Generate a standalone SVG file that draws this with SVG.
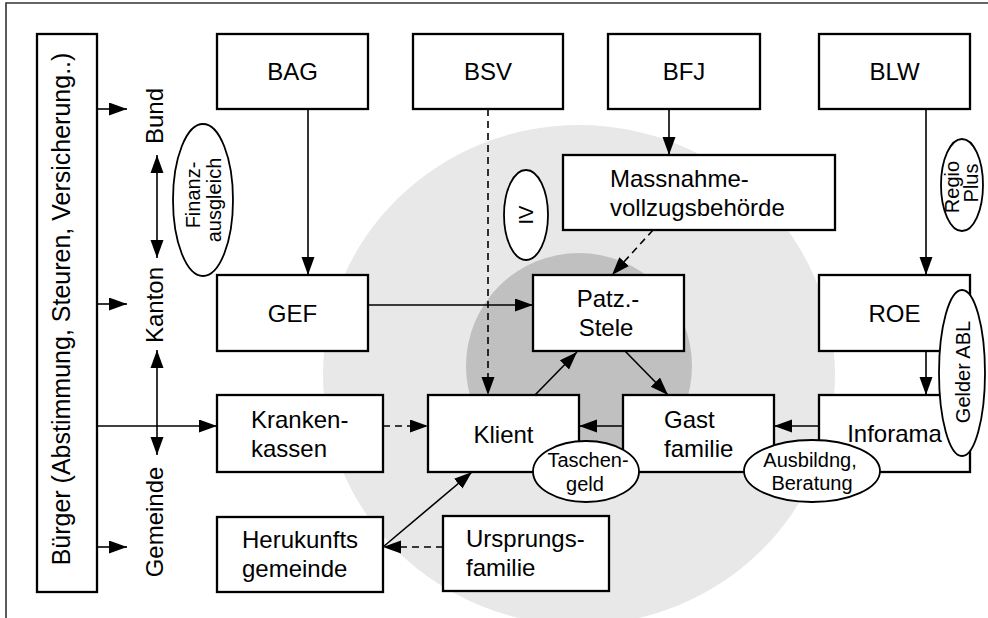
<svg xmlns="http://www.w3.org/2000/svg" width="988" height="618" viewBox="0 0 988 618">
<style>
text{font-family:"Liberation Sans",Arial,sans-serif;fill:#000}
.t{font-size:24px}
.s{font-size:20px}
.m{text-anchor:middle}
.box{fill:#fff;stroke:#000;stroke-width:2.3}
.ell{fill:#fff;stroke:#000;stroke-width:1.8}
.c{fill:none;stroke:#000;stroke-width:1.6}
.d{stroke-dasharray:7 5}
</style>
<defs>
<marker id="a" markerUnits="userSpaceOnUse" markerWidth="19" markerHeight="14" refX="18" refY="6.5" orient="auto">
<path d="M0,0 L18,6.5 L0,13 z" fill="#000"/>
</marker>
<marker id="as" markerUnits="userSpaceOnUse" markerWidth="19" markerHeight="14" refX="0" refY="6.5" orient="auto">
<path d="M18,0 L0,6.5 L18,13 z" fill="#000"/>
</marker>
</defs>
<rect width="988" height="618" fill="#fff"/>
<path d="M6,620 L6,3 L990,3" fill="none" stroke="#333" stroke-width="1.6"/>
<ellipse cx="579" cy="375" rx="256" ry="250" fill="#e8e8e8"/>
<circle cx="579" cy="366" r="113" fill="#c0c0c0"/>

<g id="connectors">
<line class="c" x1="97" y1="109" x2="127" y2="109" marker-end="url(#a)"/>
<line class="c" x1="97" y1="304" x2="127" y2="304" marker-end="url(#a)"/>
<line class="c" x1="97" y1="547" x2="127" y2="547" marker-end="url(#a)"/>
<line class="c" x1="97" y1="426" x2="217" y2="426" marker-end="url(#a)"/>
<line class="c" x1="157" y1="155" x2="157" y2="258" marker-start="url(#as)" marker-end="url(#a)"/>
<line class="c" x1="157" y1="350" x2="157" y2="455" marker-start="url(#as)" marker-end="url(#a)"/>
<line class="c" x1="308" y1="109" x2="308" y2="275" marker-end="url(#a)"/>
<line class="c d" x1="488" y1="109" x2="488" y2="395" marker-end="url(#a)"/>
<line class="c" x1="669" y1="109" x2="669" y2="155" marker-end="url(#a)"/>
<line class="c d" x1="653" y1="230" x2="612" y2="275" marker-end="url(#a)"/>
<line class="c" x1="926" y1="109" x2="926" y2="275" marker-end="url(#a)"/>
<line class="c" x1="926" y1="351" x2="926" y2="395" marker-end="url(#a)"/>
<line class="c" x1="368" y1="305" x2="533" y2="305" marker-end="url(#a)"/>
<line class="c" x1="535" y1="395" x2="577" y2="352" marker-end="url(#a)"/>
<line class="c" x1="625" y1="351" x2="668" y2="395" marker-end="url(#a)"/>
<line class="c" x1="623" y1="426" x2="579" y2="426" marker-end="url(#a)"/>
<line class="c" x1="819" y1="426" x2="774" y2="426" marker-end="url(#a)"/>
<line class="c d" x1="383" y1="426" x2="428" y2="426" marker-end="url(#a)"/>
<line class="c d" x1="443" y1="547" x2="383" y2="547" marker-end="url(#a)"/>
<line class="c" x1="383" y1="547" x2="472" y2="472" marker-end="url(#a)"/>
</g>

<g id="buerger"><rect class="box" x="37" y="34" width="60" height="558"/>
<text class="m" style="font-size:25px" transform="translate(70,309) rotate(-90)">Bürger (Abstimmung, Steuren, Versicherung..)</text></g>
<g id="bund"><text class="t m" transform="translate(163,116) rotate(-90)">Bund</text></g>
<g id="kanton"><text class="t m" transform="translate(163,305) rotate(-90)">Kanton</text></g>
<g id="gemeinde"><text class="t m" transform="translate(163,522) rotate(-90)">Gemeinde</text></g>

<g id="bag"><rect class="box" x="217" y="34" width="151" height="75"/><text class="t m" x="292.5" y="80">BAG</text></g>
<g id="bsv"><rect class="box" x="413" y="34" width="150" height="75"/><text class="t m" x="488" y="80">BSV</text></g>
<g id="bfj"><rect class="box" x="608" y="34" width="152" height="75"/><text class="t m" x="684" y="80">BFJ</text></g>
<g id="blw"><rect class="box" x="819" y="34" width="151" height="75"/><text class="t m" x="894.5" y="80">BLW</text></g>
<g id="massnahme"><rect class="box" x="563" y="155" width="272" height="75"/>
<text class="t" x="610" y="187">Massnahme-</text><text class="t" x="610" y="216">vollzugsbehörde</text></g>
<g id="gef"><rect class="box" x="217" y="275" width="151" height="76"/><text class="t m" x="292.5" y="322">GEF</text></g>
<g id="patz"><rect class="box" x="533" y="275" width="151" height="76"/>
<text class="t m" x="608" y="307">Patz.-</text><text class="t m" x="606" y="336">Stele</text></g>
<g id="roe"><rect class="box" x="819" y="275" width="151" height="76"/><text class="t m" x="894.5" y="322">ROE</text></g>
<g id="kranken"><rect class="box" x="217" y="395" width="166" height="77"/>
<text class="t" x="251" y="428">Kranken-</text><text class="t" x="251" y="457">kassen</text></g>
<g id="klient"><rect class="box" x="428" y="395" width="151" height="77"/><text class="t m" x="503.5" y="443">Klient</text></g>
<g id="gast"><rect class="box" x="623" y="395" width="151" height="77"/>
<text class="t" x="664" y="428">Gast</text><text class="t" x="664" y="457">familie</text></g>
<g id="inforama"><rect class="box" x="819" y="395" width="151" height="77"/><text class="t m" x="894.5" y="442">Inforama</text></g>
<g id="herkunft"><rect class="box" x="217" y="517" width="166" height="75"/>
<text class="t" x="242" y="548">Herukunfts</text><text class="t" x="242" y="577">gemeinde</text></g>
<g id="ursprung"><rect class="box" x="443" y="516" width="166" height="75"/>
<text class="t" x="466" y="547">Ursprungs-</text><text class="t" x="466" y="576">familie</text></g>

<g id="finanz"><ellipse class="ell" cx="203" cy="200" rx="30" ry="76"/>
<text class="s m" transform="translate(200,195) rotate(-90)">Finanz-</text>
<text class="s m" transform="translate(221,200) rotate(-90)">ausgleich</text></g>
<g id="iv"><ellipse class="ell" cx="526" cy="215" rx="22" ry="45"/>
<text class="s m" transform="translate(533,215) rotate(-90)">IV</text></g>
<g id="regio"><ellipse class="ell" cx="962" cy="185" rx="21" ry="46"/>
<text class="s m" transform="translate(959,187) rotate(-90)">Regio</text>
<text class="s m" transform="translate(978,183) rotate(-90)">Plus</text></g>
<g id="gelder"><ellipse class="ell" cx="962" cy="373" rx="23" ry="83"/>
<text class="s m" transform="translate(970,372) rotate(-90)">Gelder ABL</text></g>
<g id="taschengeld"><ellipse class="ell" cx="586" cy="471.5" rx="53" ry="30.5"/>
<text class="s m" x="588" y="467">Taschen-</text><text class="s m" x="585" y="491">geld</text></g>
<g id="ausbildung"><ellipse class="ell" cx="812" cy="471" rx="68" ry="31"/>
<text class="s m" x="810" y="467">Ausbildng,</text><text class="s m" x="812" y="490">Beratung</text></g>
</svg>
